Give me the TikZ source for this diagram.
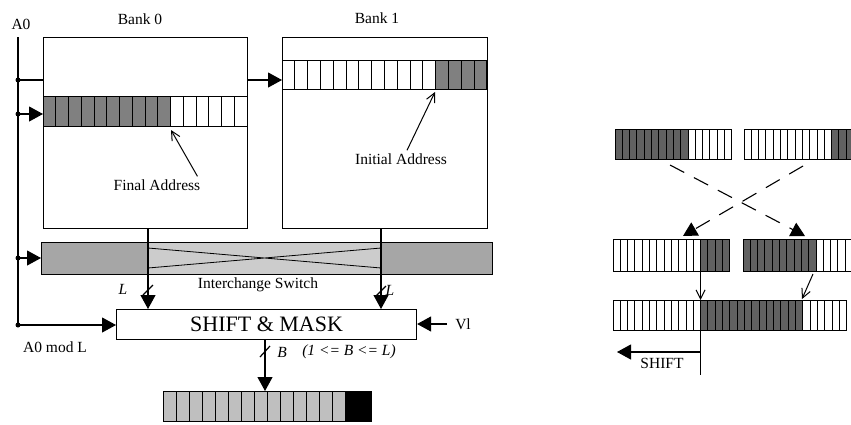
\documentclass[tikz,border=0pt]{standalone}
\usepackage{fontspec}
\setmainfont{Liberation Serif}
\usetikzlibrary{positioning,arrows.meta,calc}

% one row of register cells: name, x, y, cell width, height, cells, first shaded, last shaded, colour
\newcommand{\regrow}[9]{%
  \foreach \ci in {1,...,#6}{%
    \ifnum\ci<#7 \def\cellcol{white}\else\ifnum\ci>#8 \def\cellcol{white}\else\def\cellcol{#9}\fi\fi
    \draw[cellline,fill=\cellcol] ({#2+(\ci-1)*#4},#3) rectangle ++(#4,#5);
  }
  \node[inner sep=0pt,minimum width={#4*#6*1pt},minimum height={#5*1pt},anchor=north west] (#1) at (#2,#3) {};
}

\begin{document}
\begin{tikzpicture}[x=1pt,y=-1pt,
  lbl/.style={font=\fontsize{15.5}{17}\selectfont,inner sep=1pt},
  box/.style={draw,line width=1.1pt,inner sep=0pt,anchor=north west},
  cellline/.style={line width=1pt},
  tri/.style={line width=1.1pt,-{Triangle[length=14pt,width=15pt]}},
  barb/.style={line width=1pt,-{Straight Barb[length=9pt,width=9pt]}},
  dot/.style={circle,fill,inner sep=0pt,minimum size=5pt}]
  \useasboundingbox (0,0) rectangle (851,424);
  \clip (0,0) rectangle (851,424);

  % banks
  \node[lbl] (a0) at (21,24) {A0};
  \node[lbl] (bank0lbl) at (140,19) {Bank 0};
  \node[lbl] (bank1lbl) at (377,18) {Bank 1};
  \node[box,minimum width=204pt,minimum height=191pt] (bank0) at (43,37) {};
  \node[box,minimum width=205pt,minimum height=191pt] (bank1) at (282,37) {};
  \regrow{row0}{43}{96}{12.75}{30}{16}{1}{10}{black!50}
  \regrow{row1}{282}{60}{12.8}{29}{16}{13}{16}{black!50}

  \node[lbl] (fin) at (157,185) {Final Address};
  \node[lbl] (ini) at (401,159) {Initial Address};
  \coordinate (finend) at (171,130);
  \coordinate (iniend) at (435,92);
  \draw[barb] ([xshift=-4pt,yshift=2pt]fin.north east) -- (finend);
  \draw[barb] ([xshift=6pt,yshift=2pt]ini.north) -- (iniend);

  % interchange switch
  \fill[black!35] (41,242) rectangle (148,274);
  \fill[black!20] (148,242) rectangle (381,274);
  \fill[black!35] (381,242) rectangle (492,274);
  \node[box,minimum width=451pt,minimum height=32pt] (switch) at (41,242) {};
  \draw[line width=0.8pt] (148,248) -- (381,268) (148,268) -- (381,248);
  \node[lbl] (swlbl) at (258,285) {Interchange Switch};

  \node[box,minimum width=300pt,minimum height=30pt,font=\fontsize{22}{24}\selectfont] (shift) at (116,309) {SHIFT \& MASK};

  \coordinate (cl) at (148,0);
  \coordinate (cr) at (381,0);
  \draw[tri] (cl |- bank0.south) -- (cl |- shift.north);
  \draw[tri] (cr |- bank1.south) -- (cr |- shift.north);
  \draw[line width=1.2pt] (143,295) -- (153,285) (376,296) -- (386,286);
  \node[lbl] (lleft) at (123,289) {\itshape L};
  \node[lbl] (lright) at (390,290) {\itshape L};

  % address line A0
  \coordinate (a0top) at (18,37);
  \node[dot] (j1) at (18,80) {};
  \node[dot] (j2) at (18,114) {};
  \node[dot] (j3) at (18,258) {};
  \node[dot] (j4) at (18,325) {};
  \draw[line width=1.1pt] (a0top) -- (j4.center);
  \draw[line width=1.1pt] (j1.center) -- (j1 -| bank0.west);
  \draw[tri] (j2.center) -- (j2 -| row0.west);
  \draw[tri] (j3.center) -- (j3 -| switch.west);
  \draw[tri] (j4.center) -- (j4 -| shift.west);
  \draw[tri] (j1 -| bank0.east) -- (j1 -| bank1.west);
  \node[lbl] (a0mod) at (55,347) {A0 mod L};

  \node[lbl] (vl) at (463,324) {Vl};
  \draw[tri] ([xshift=-7pt]vl.west) -- (vl -| shift.east);

  % output
  \coordinate (co) at (265,0);
  \regrow{outreg}{163}{391}{13}{30}{16}{1}{14}{black!25}
  \draw[cellline,fill=black] ($(outreg.north west)+(182,0)$) rectangle (outreg.south east);
  \draw[tri] (co |- shift.south) -- (co |- outreg.north);
  \draw[line width=1.2pt] (260,357) -- (270,346);
  \node[lbl] (blbl) at (282,352) {\itshape B};
  \node[lbl] (brange) at (349,352) {\itshape (1 <= B <= L)};

  % right: shift example
  \regrow{r1a}{615}{129}{7.3}{30}{16}{1}{10}{black!62}
  \regrow{r1b}{744}{129}{7.3}{30}{16}{13}{16}{black!62}
  \regrow{r2a}{613}{239}{7.3}{32}{16}{13}{16}{black!62}
  \regrow{r2b}{743}{239}{7.3}{32}{16}{1}{10}{black!62}
  \regrow{r3}{613}{300}{7.3}{30}{32}{13}{26}{black!62}

  \coordinate (xa) at (670,165);
  \coordinate (xb) at (803,166);
  \coordinate (xaend) at (805,236);
  \coordinate (xbend) at (683,236);
  \draw[tri,dash pattern=on 16pt off 11pt] (xa) -- (xaend);
  \draw[tri,dash pattern=on 16pt off 11pt] (xb) -- (xbend);

  \coordinate (sh) at (700.6,0);
  \coordinate (shbot) at (700.6,375);
  \draw[barb] (sh |- r2a.south) -- (sh |- r3.north);
  \draw[line width=1.1pt] (sh |- r3.north) -- (shbot);
  \draw[barb] (813,274) -- (802,299);
  \coordinate (shl) at (617,352);
  \draw[tri] (shl -| sh) -- (shl);
  \node[lbl] (shiftlbl) at (662,363) {SHIFT};
\end{tikzpicture}
\end{document}
